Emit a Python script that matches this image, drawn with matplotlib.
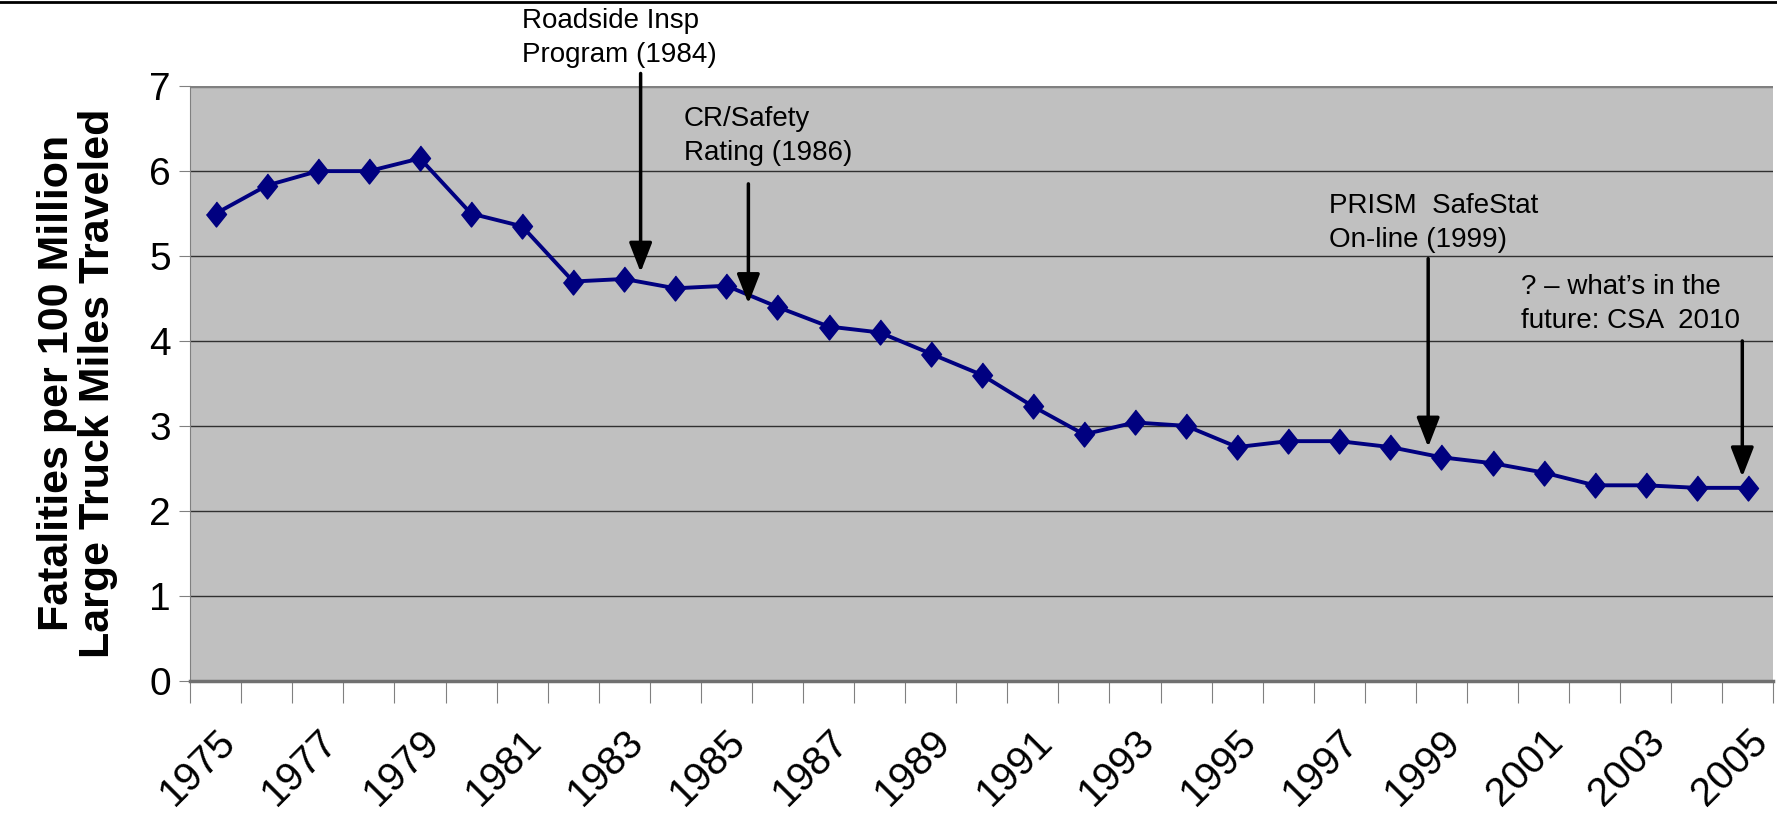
import matplotlib.pyplot as plt
from matplotlib.lines import Line2D

years = list(range(1975, 2006))
rates = [5.50, 5.83, 6.00, 6.00, 6.15, 5.50, 5.35, 4.70, 4.73, 4.62,
         4.65, 4.40, 4.17, 4.10, 3.85, 3.60, 3.23, 2.90, 3.04, 3.00,
         2.75, 2.82, 2.82, 2.75, 2.63, 2.56, 2.45, 2.30, 2.30, 2.27, 2.27]
label_years = years[::2]

# annotations: text, text position, arrow x, arrow start y, arrow end y
notes = [
    ("Roadside Insp\nProgram (1984)", (1980.99, 7.57), 1983.32, 7.15, 4.81),
    ("CR/Safety\nRating (1986)", (1984.16, 6.41), 1985.43, 5.85, 4.44),
    ("PRISM  SafeStat\nOn-line (1999)", (1996.79, 5.39), 1998.74, 4.97, 2.75),
    ("? \u2013 what\u2019s in the\nfuture: CSA  2010", (2000.56, 4.43), 2004.89, 4.0, 2.40),
]

plt.rcParams['font.family'] = ['Liberation Sans', 'DejaVu Sans']

fig = plt.figure(figsize=(17.77, 8.21), dpi=100)
ax = fig.add_axes([0.107, 0.171, 0.891, 0.724])
ax.set_facecolor('#C0C0C0')

# ligne en haut de la figure
fig.add_artist(Line2D([0, 1], [0.998, 0.998], color='black', lw=2, transform=fig.transFigure))

ax.set_ylim(0, 7)
ax.set_xlim(1974.5, 2005.5)
ax.yaxis.grid(True, color='#303030', lw=1)
ax.set_axisbelow(True)

diamond = [(0, 1), (0.8, 0), (0, -1), (-0.8, 0)]
ax.plot(years, rates, color='#000080', lw=2.8, marker=diamond, markersize=18,
        markerfacecolor='#000080', markeredgecolor='#000080', zorder=3)

for sp in ['top', 'right']:
    ax.spines[sp].set_visible(False)
ax.spines['left'].set_color('#808080')
ax.spines['bottom'].set_color('#707070')
ax.spines['bottom'].set_linewidth(2.5)
ax.axhline(7, color='#808080', lw=2.5)

ax.set_yticks(range(0, 8))
ax.tick_params(axis='y', labelsize=28, length=8, color='#808080', pad=6)

# ticks entre les categories
ax.set_xticks([y - 0.5 for y in years] + [2005.5])
ax.set_xticklabels([])
ax.tick_params(axis='x', which='major', length=16, color='#808080')
ax.set_xticks(label_years, minor=True)
ax.set_xticklabels([str(y) for y in label_years], minor=True, rotation=45,
                   ha='right', rotation_mode='anchor', fontsize=29)
ax.tick_params(axis='x', which='minor', length=0, pad=30)

ax.set_ylabel("Fatalities per 100 Million\nLarge Truck Miles Traveled",
              fontsize=31, fontweight='bold', labelpad=22, linespacing=1.05)

for text, pos, ax_x, y0, y1 in notes:
    ax.text(pos[0], pos[1], text, fontsize=20, ha='left', va='center',
            linespacing=1.4, clip_on=False)
    ax.annotate('', xy=(ax_x, y1), xytext=(ax_x, y0), annotation_clip=False,
                arrowprops=dict(arrowstyle='-|>,head_length=0.9,head_width=0.35',
                                color='black', lw=2.5, mutation_scale=20,
                                shrinkA=0, shrinkB=0))

fig.savefig('out.png', dpi=100)
